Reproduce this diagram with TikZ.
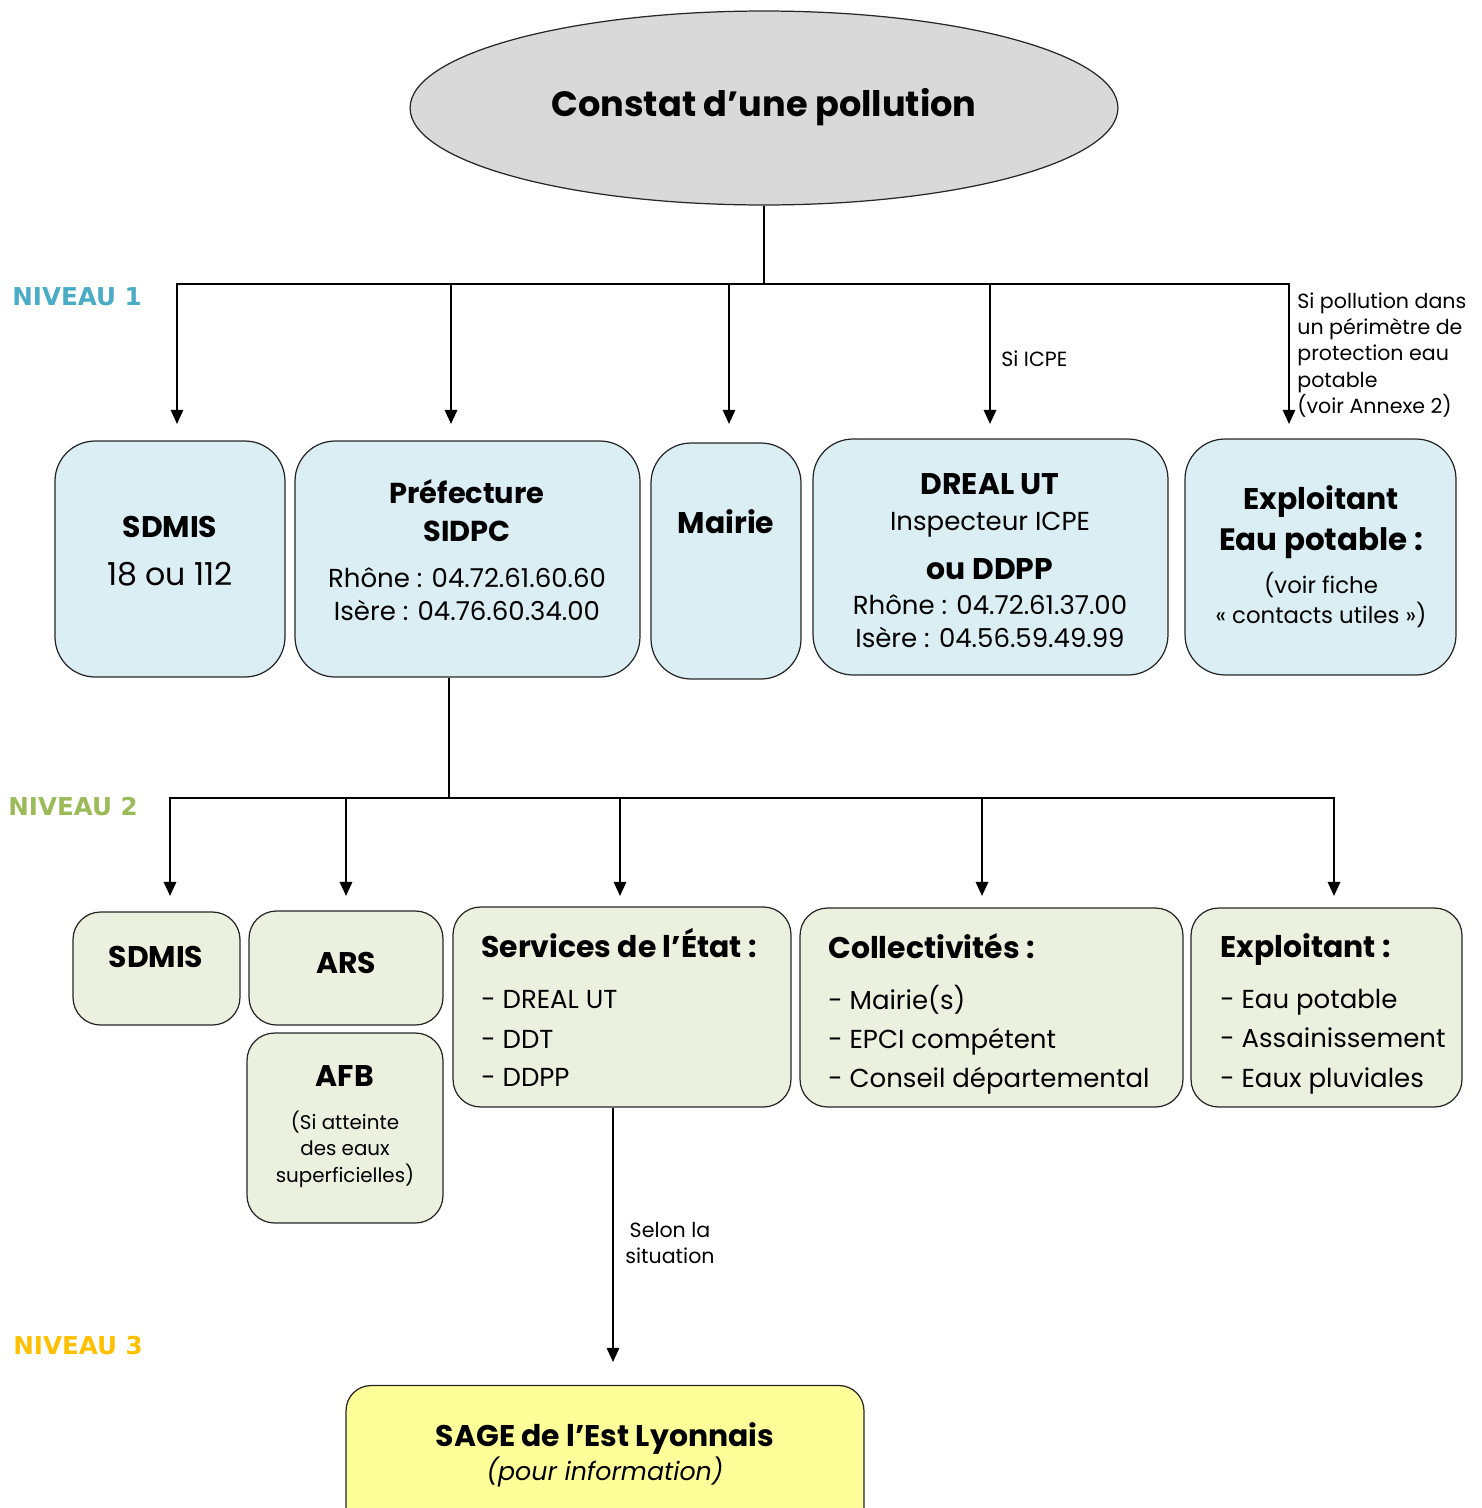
\documentclass[tikz,border=0pt]{standalone}
\usepackage{fontspec}
\setmainfont{Poppins}
\newfontfamily\niveaufont{DejaVu Sans}
\usepackage{xcolor}
\usetikzlibrary{arrows.meta,shapes.geometric}
\definecolor{grisfond}{HTML}{D9D9D9}
\definecolor{bleufond}{HTML}{DAEEF3}
\definecolor{vertfond}{HTML}{EBF1DE}
\definecolor{jaunefond}{HTML}{FFFF99}
\definecolor{niv1}{HTML}{4BACC6}
\definecolor{niv2}{HTML}{9BBB59}
\definecolor{niv3}{HTML}{FFC000}

\begin{document}
\begin{tikzpicture}[x=0.02cm,y=-0.02cm,
  boite/.style={draw=black!85, line width=0.7pt, inner sep=0pt},
  bleu/.style={boite, fill=bleufond, rounded corners=0.8cm, minimum height=4.72cm},
  vert/.style={boite, fill=vertfond, rounded corners=0.55cm},
  ligne/.style={inner sep=0pt, text height=0.7em, text depth=0pt},
  titre/.style={ligne, font=\fontsize{20}{24}\selectfont\bfseries},
  gras/.style={ligne, font=\fontsize{17}{20}\selectfont\bfseries},
  texte/.style={ligne, font=\fontsize{14.8}{17}\selectfont},
  petit/.style={ligne, font=\fontsize{13}{15}\selectfont},
  note/.style={ligne, font=\fontsize{11.7}{13}\selectfont},
  niveau/.style={ligne, anchor=west, font=\fontsize{14}{16}\selectfont\niveaufont\bfseries},
  fleche/.style={line width=1.2pt, -{Triangle[length=8pt,width=7pt]}}]

\useasboundingbox (0,0) rectangle (1481,1508);
\clip (0,0) rectangle (1481,1508);

% constat
\node[ellipse, draw=black!85, line width=0.7pt, fill=grisfond, inner sep=0pt,
  minimum width=14.16cm, minimum height=3.88cm] (pollution) at (764,108) {};
\node[titre] (titre) at (764,110) {Constat d’une pollution};

% niveaux
\node[niveau, text=niv1] (niveau1) at (12,299) {NIVEAU 1};
\node[niveau, text=niv2] (niveau2) at (8,809) {NIVEAU 2};
\node[niveau, text=niv3] (niveau3) at (13,1348) {NIVEAU 3};

% niveau 1
\node[bleu, minimum width=4.6cm] (sdmisA) at (170,559) {};
\node[bleu, minimum width=6.9cm] (pref) at (467.5,559) {};
\node[bleu, minimum width=3.0cm] (mairie) at (726,561) {};
\node[bleu, minimum width=7.1cm] (dreal) at (990.5,557) {};
\node[bleu, minimum width=5.42cm] (exploitA) at (1320.5,557) {};

\node[gras] (sdmisA1) at (170,531) {SDMIS};
\node[texte, font=\fontsize{18}{20}\selectfont] (sdmisA2) at (170,579) {18 ou 112};

\node[gras, font=\fontsize{16.4}{20}\selectfont\bfseries] (pref1) at (467,497) {Préfecture};
\node[gras, font=\fontsize{16.4}{20}\selectfont\bfseries] (pref2) at (467,535) {SIDPC};
\node[texte] (pref3) at (467,581) {Rhône~: 04.72.61.60.60};
\node[texte] (pref4) at (467,614) {Isère~: 04.76.60.34.00};

\node[gras] (mairie1) at (726,527) {Mairie};

\node[gras] (dreal1) at (990,488) {DREAL UT};
\node[texte] (dreal2) at (990,524) {Inspecteur ICPE};
\node[gras] (dreal3) at (990,573) {ou DDPP};
\node[texte] (dreal4) at (990,608) {Rhône~: 04.72.61.37.00};
\node[texte] (dreal5) at (990,641) {Isère~: 04.56.59.49.99};

\node[gras] (exploitA1) at (1321,503) {Exploitant};
\node[gras, font=\fontsize{17.6}{20}\selectfont\bfseries] (exploitA2) at (1321,544) {Eau potable~:};
\node[petit] (exploitA3) at (1321,587) {(voir fiche};
\node[petit] (exploitA4) at (1321,617) {« contacts utiles »)};

% niveau 2
\node[vert, minimum width=3.34cm, minimum height=2.26cm] (sdmisB) at (156.5,968.5) {};
\node[vert, minimum width=3.88cm, minimum height=2.28cm] (ars) at (346,968) {};
\node[vert, minimum width=3.92cm, minimum height=3.8cm] (afb) at (345,1128) {};
\node[vert, minimum width=6.76cm, minimum height=4cm] (etat) at (622,1007) {};
\node[vert, minimum width=7.66cm, minimum height=3.98cm] (coll) at (991.5,1007.5) {};
\node[vert, minimum width=5.42cm, minimum height=3.98cm] (exploitB) at (1326.5,1007.5) {};

\node[gras] (sdmisB1) at (156,961) {SDMIS};
\node[gras] (ars1) at (346,967) {ARS};
\node[gras] (afb1) at (345,1080) {AFB};
\node[petit, font=\fontsize{11.3}{13}\selectfont] (afb2) at (345,1123) {(Si atteinte};
\node[petit, font=\fontsize{11.3}{13}\selectfont] (afb3) at (345,1149) {des eaux};
\node[petit, font=\fontsize{11.3}{13}\selectfont] (afb4) at (345,1176) {superficielles)};

\node[gras, anchor=west] (etat1) at (481,951) {Services de l’État~:};
\node[texte, anchor=west] (etat2) at (481,1002) {- DREAL UT};
\node[texte, anchor=west] (etat3) at (481,1042) {- DDT};
\node[texte, anchor=west] (etat4) at (481,1080) {- DDPP};

\node[gras, anchor=west] (coll1) at (828,952) {Collectivités~:};
\node[texte, anchor=west] (coll2) at (828,1003) {- Mairie(s)};
\node[texte, anchor=west] (coll3) at (828,1042) {- EPCI compétent};
\node[texte, anchor=west] (coll4) at (828,1081) {- Conseil départemental};

\node[gras, anchor=west] (exploitB1) at (1220,951) {Exploitant~:};
\node[texte, anchor=west] (exploitB2) at (1220,1002) {- Eau potable};
\node[texte, anchor=west] (exploitB3) at (1220,1041) {- Assainissement};
\node[texte, anchor=west] (exploitB4) at (1220,1081) {- Eaux pluviales};

% niveau 3
\node[boite, fill=jaunefond, rounded corners=0.5cm, minimum width=10.36cm, minimum height=3.1cm] (sage) at (605,1463) {};
\node[gras] (sage1) at (605,1440) {SAGE de l’Est Lyonnais};
\node[texte, font=\fontsize{14.4}{17}\selectfont\itshape] (sage2) at (605,1474) {(pour information)};

% conditions
\node[note, anchor=west] (icpe) at (1001,360) {Si ICPE};
\node[note, anchor=west] (perim1) at (1297,302) {Si pollution dans};
\node[note, anchor=west] (perim2) at (1297,328) {un périmètre de};
\node[note, anchor=west] (perim3) at (1297,354) {protection eau};
\node[note, anchor=west] (perim4) at (1297,381) {potable};
\node[note, anchor=west] (perim5) at (1297,407) {(voir Annexe 2)};
\node[note] (selon1) at (670,1231) {Selon la};
\node[note] (selon2) at (670,1257) {situation};

% points des fleches
\coordinate (busA) at (764,284);
\coordinate (a1) at (177,424);
\coordinate (a2) at (451,424);
\coordinate (a3) at (729,424);
\coordinate (a4) at (990,424);
\coordinate (a5) at (1289,424);
\coordinate (busB) at (449,798);
\coordinate (b1) at (170,896);
\coordinate (b2) at (346,896);
\coordinate (b3) at (620,896);
\coordinate (b4) at (982,896);
\coordinate (b5) at (1334,896);
\coordinate (c1) at (613,1362);

% draw the arrows
\draw[line width=1.2pt] (pollution.south) -- (busA);
\draw[fleche] (busA) -| (a1);
\draw[fleche] (busA) -| (a2);
\draw[fleche] (busA) -| (a3);
\draw[fleche] (busA) -| (a4);
\draw[fleche] (busA) -| (a5);
\draw[line width=1.2pt] (pref.south -| busB) -- (busB);
\draw[fleche] (busB) -| (b1);
\draw[fleche] (busB) -| (b2);
\draw[fleche] (busB) -| (b3);
\draw[fleche] (busB) -| (b4);
\draw[fleche] (busB) -| (b5);
\draw[fleche] (etat.south -| c1) -- (c1);

\end{tikzpicture}
\end{document}
